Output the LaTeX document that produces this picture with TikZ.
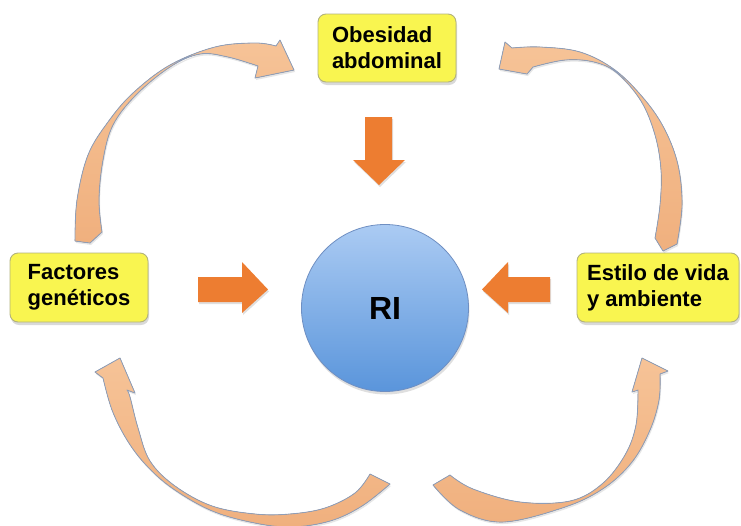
\documentclass[tikz,border=0pt]{standalone}
\usepackage{fontspec}
\setmainfont{Liberation Sans}
\usetikzlibrary{shadows}
\definecolor{boxyellow}{HTML}{F9F550}
\definecolor{boxborder}{HTML}{B2B27C}
\definecolor{ritop}{HTML}{ABCBF3}
\definecolor{ribot}{HTML}{5A95DB}
\definecolor{riborder}{HTML}{6F8FC2}
\definecolor{blockorange}{HTML}{ED7D31}
\definecolor{peach}{HTML}{F6C397}
\definecolor{peachdark}{HTML}{F0B07E}
\definecolor{peachborder}{HTML}{8E9EB9}
\begin{document}
\begin{tikzpicture}[x=1pt,y=-1pt,
  box/.style={draw=boxborder, line width=0.9pt, rounded corners=8pt, fill=boxyellow,
    align=left, inner sep=0pt, font=\bfseries\fontsize{22}{26}\selectfont,
    drop shadow={shadow xshift=1pt, shadow yshift=-3pt, opacity=0.3}},
  ricircle/.style={circle, draw=riborder, line width=0.8pt, top color=ritop, bottom color=ribot,
    minimum size=167pt, inner sep=0pt, font=\bfseries\fontsize{32}{36}\selectfont,
    drop shadow={shadow xshift=1pt, shadow yshift=-3pt, opacity=0.25}},
  blockarrow/.style={fill=blockorange,
    drop shadow={shadow xshift=1pt, shadow yshift=-2pt, opacity=0.25}},
  curvarrow/.style={top color=peach, bottom color=peachdark, draw=peachborder, line width=0.8pt,
    line join=round,
    drop shadow={shadow xshift=1pt, shadow yshift=-2pt, opacity=0.2}}
]
\useasboundingbox (0,0) rectangle (741,525);

% nodes
\node[box, minimum width=138pt, minimum height=68pt] (obes) at (387,48) {Obesidad\\abdominal};
\node[box, minimum width=138pt, minimum height=69pt] (fact) at (79,287.5) {Factores\\genéticos};
\node[box, minimum width=162pt, minimum height=69pt] (estilo) at (658,287.5) {Estilo de vida\\y ambiente};
\node[ricircle] (ri) at (385,308) {RI};

% straight block arrows
\fill[blockarrow] (365,117) -- (392,117) -- (392,160) -- (405,160) -- (379,185) -- (353,160) -- (365,160) -- cycle;
\fill[blockarrow] (198,277) -- (242,277) -- (242,262) -- (268,289.5) -- (242,313) -- (242,302) -- (198,302) -- cycle;
\fill[blockarrow] (550,277) -- (508,277) -- (508,262) -- (482,289.5) -- (508,313) -- (508,302) -- (550,302) -- cycle;

% curved arrow: top left (Factores -> Obesidad)
\filldraw[curvarrow] plot[smooth, tension=0.6] coordinates {(75,241) (77,200) (88,155) (108,122) (133,93) (170,65) (215,47) (255,43) (276,46)}
  -- (280,40) -- (294,70) -- (255,78) -- (258,66)
  -- plot[smooth, tension=0.6] coordinates {(258,66) (228,57) (200,54) (170,67) (136,95) (113,125) (103,160) (99,200) (102,232)}
  -- (90,243) -- cycle;

% curved arrow: top right (Estilo -> Obesidad)
\filldraw[curvarrow] plot[smooth, tension=0.6] coordinates {(677,244) (682,205) (678,165) (665,130) (645,100) (615,70) (580,52) (540,47) (512,48)}
  -- (505,42) -- (499,69) -- (527,74) -- (533,67)
  -- plot[smooth, tension=0.6] coordinates {(533,67) (565,60) (594,62) (617,73) (641,101) (655,135) (661,170) (660,205) (655,238)}
  -- (663,251) -- cycle;

% curved arrow: bottom left (towards Factores)
\filldraw[curvarrow] plot[smooth, tension=0.6] coordinates {(103,378) (112,410) (127,440) (146,465) (172,488) (210,510) (250,522) (290,527) (330,521) (362,506) (390,484)}
  -- (370,474)
  -- plot[smooth, tension=0.6] coordinates {(370,474) (355,493) (325,508) (290,514) (255,514) (212,506) (175,486) (150,461) (138,428) (130,397) (127,390)}
  -- (135,393) -- (120,358) -- (95,372) -- cycle;

% curved arrow: bottom right (towards Estilo)
\filldraw[curvarrow] plot[smooth, tension=0.6] coordinates {(450,475) (473,489) (520,502) (570,501) (602,484) (625,455) (636,425) (638,390)}
  -- (632,392) -- (642,358) -- (668,371) -- (660,374)
  -- plot[smooth, tension=0.6] coordinates {(660,374) (659,400) (650,430) (632,462) (604,488) (565,507) (503,522) (460,510) (433,485)}
  -- cycle;
\end{tikzpicture}
\end{document}
